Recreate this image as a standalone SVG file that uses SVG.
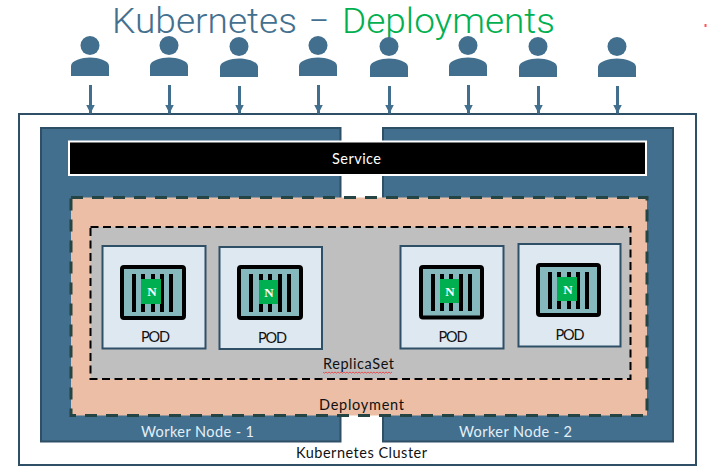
<svg xmlns="http://www.w3.org/2000/svg" width="707" height="471" viewBox="0 0 707 471">
<style>
text{font-family:"Lato","Liberation Sans",sans-serif;font-size:14.5px;fill:#111;text-anchor:middle}
.title{font-family:"Roboto","Open Sans",sans-serif;font-weight:300;font-size:35px;text-anchor:start}
.worker{fill:#426f8e;stroke:#2f4f66;stroke-width:2}
.pod{fill:#dee8f0;stroke:#2f4f66;stroke-width:2}
.box{fill:#85b9bd;stroke:#000;stroke-width:4}
.bar{fill:#000}
.badge{fill:#00b050}
.n{font-family:"Liberation Serif",serif;font-weight:bold;font-size:13px;fill:#fff}
.lt{fill:#e4eff8}
.user{fill:#426f8e}
.conn{stroke:#426f8e;stroke-width:3;fill:none}
</style>
<defs>
<marker id="arrow" markerUnits="userSpaceOnUse" markerWidth="10" markerHeight="10" refX="9" refY="5" orient="auto"><path d="M0,0.500L9,5L0,9.500L1,5Z" fill="#426f8e"/></marker>
<path id="person" d="M-19,76V66C-19,60.500-8,57.500 0,57.500C8,57.500 19,60.500 19,66V76Z"/>
</defs>
<rect width="707" height="471" fill="#fff"/>
<text class="title" y="33"><tspan x="112" fill="#44708f" textLength="185" lengthAdjust="spacingAndGlyphs">Kubernetes</tspan><tspan x="309" fill="#44708f" textLength="20" lengthAdjust="spacingAndGlyphs">–</tspan><tspan x="342" fill="#00b050" textLength="213" lengthAdjust="spacingAndGlyphs">Deployments</tspan></text>
<rect x="704.500" y="24" width="2" height="3" fill="#f55"/>
<g id="cluster"><rect x="19" y="114" width="677" height="351" fill="#fff" stroke="#2f4f66" stroke-width="2"/><text x="361.500" y="457.500" textLength="131">Kubernetes Cluster</text></g>
<g id="worker-1"><rect class="worker" x="41" y="128" width="299.500" height="313.500"/><text class="lt" x="197.500" y="437" textLength="113">Worker Node - 1</text></g>
<g id="worker-2"><rect class="worker" x="383" y="128" width="290" height="313.500"/><text class="lt" x="515.500" y="437" textLength="113">Worker Node - 2</text></g>
<g id="service"><rect x="69" y="141.500" width="577" height="33.500" fill="#000" stroke="#fff" stroke-width="2"/><text x="356.500" y="164" style="fill:#fff" textLength="49">Service</text></g>
<g id="deployment"><rect x="71" y="197.500" width="576" height="218" fill="#ebbea5" stroke="#254545" stroke-width="3" stroke-dasharray="12 9"/><text x="361.500" y="410" textLength="85">Deployment</text></g>
<g id="replicaset"><rect x="90.500" y="227" width="540" height="152" fill="#bfbfbf" stroke="#000" stroke-width="2" stroke-dasharray="8 4.500"/><text x="358.500" y="369" textLength="71">ReplicaSet</text><path d="M323,372l1.500,1.200 1.500,-1.200 1.500,1.200 1.500,-1.200 1.500,1.200 1.500,-1.200 1.500,1.200 1.500,-1.200 1.500,1.200 1.500,-1.200 1.500,1.200 1.500,-1.200 1.500,1.200 1.500,-1.200 1.500,1.200 1.500,-1.200 1.500,1.200 1.500,-1.200 1.500,1.200 1.500,-1.200 1.500,1.200 1.500,-1.200 1.500,1.200 1.500,-1.200 1.500,1.200 1.500,-1.200 1.500,1.200 1.500,-1.200 1.500,1.200 1.500,-1.200 1.500,1.200 1.500,-1.200 1.500,1.200 1.500,-1.200 1.500,1.200 1.500,-1.200 1.500,1.200 1.500,-1.200 1.500,1.200 1.500,-1.200 1.500,1.200 1.500,-1.200 1.500,1.200 1.500,-1.200 1.500,1.200 1.500,-1.200" fill="none" stroke="#e33" stroke-width="0.800"/></g>
<g id="pod-1"><rect class="pod" x="102.500" y="246" width="103" height="102.500"/><rect class="box" x="122" y="267" width="62" height="51" rx="2"/><rect class="bar" x="132" y="274" width="4" height="38"/><rect class="bar" x="141" y="274" width="4" height="38"/><rect class="bar" x="151" y="274" width="4" height="38"/><rect class="bar" x="160" y="274" width="4" height="38"/><rect class="bar" x="169" y="274" width="4" height="38"/><rect class="badge" x="141" y="279" width="20" height="25"/><text class="n" x="152" y="296">N</text><text x="155.500" y="341.500" textLength="29">POD</text></g>
<g id="pod-2"><rect class="pod" x="219.500" y="247" width="102.500" height="102"/><rect class="box" x="239" y="267" width="62" height="51" rx="2"/><rect class="bar" x="249" y="274" width="4" height="38"/><rect class="bar" x="259" y="274" width="4" height="38"/><rect class="bar" x="268" y="274" width="4" height="38"/><rect class="bar" x="278" y="274" width="4" height="38"/><rect class="bar" x="287" y="274" width="4" height="38"/><rect class="badge" x="259" y="280" width="19" height="24"/><text class="n" x="269" y="297">N</text><text x="272.500" y="343" textLength="29">POD</text></g>
<g id="pod-3"><rect class="pod" x="400.500" y="246" width="103" height="102.500"/><rect class="box" x="421" y="267" width="61" height="50.500" rx="2"/><rect class="bar" x="431" y="274" width="4" height="37"/><rect class="bar" x="440" y="274" width="4" height="37"/><rect class="bar" x="449" y="274" width="4" height="37"/><rect class="bar" x="459" y="274" width="4" height="37"/><rect class="bar" x="468" y="274" width="4" height="37"/><rect class="badge" x="440" y="279" width="19" height="24"/><text class="n" x="450" y="296">N</text><text x="453" y="342" textLength="29">POD</text></g>
<g id="pod-4"><rect class="pod" x="518.500" y="244" width="102" height="102.500"/><rect class="box" x="538" y="265" width="61" height="50" rx="2"/><rect class="bar" x="548" y="272" width="4" height="37"/><rect class="bar" x="557" y="272" width="4" height="37"/><rect class="bar" x="567" y="272" width="4" height="37"/><rect class="bar" x="576" y="272" width="4" height="37"/><rect class="bar" x="585" y="272" width="4" height="37"/><rect class="badge" x="557" y="277" width="20" height="24"/><text class="n" x="568" y="294">N</text><text x="570" y="340" textLength="29">POD</text></g>
<g id="user-1" class="user" transform="translate(90 0)"><circle cy="45.500" r="9.500"/><use href="#person"/></g>
<g id="user-2" class="user" transform="translate(169 0)"><circle cy="45.500" r="9.500"/><use href="#person"/></g>
<g id="user-3" class="user" transform="translate(239 1)"><circle cy="45.500" r="9.500"/><use href="#person"/></g>
<g id="user-4" class="user" transform="translate(318 0)"><circle cy="45.500" r="9.500"/><use href="#person"/></g>
<g id="user-5" class="user" transform="translate(389 1)"><circle cy="45.500" r="9.500"/><use href="#person"/></g>
<g id="user-6" class="user" transform="translate(468 0)"><circle cy="45.500" r="9.500"/><use href="#person"/></g>
<g id="user-7" class="user" transform="translate(538 1)"><circle cy="45.500" r="9.500"/><use href="#person"/></g>
<g id="user-8" class="user" transform="translate(617 1)"><circle cy="45.500" r="9.500"/><use href="#person"/></g>
<g id="connectors">
<line class="conn" x1="90.500" y1="85" x2="90.500" y2="113.500" marker-end="url(#arrow)"/>
<line class="conn" x1="169.500" y1="85" x2="169.500" y2="113.500" marker-end="url(#arrow)"/>
<line class="conn" x1="239.500" y1="86" x2="239.500" y2="113.500" marker-end="url(#arrow)"/>
<line class="conn" x1="318.500" y1="85" x2="318.500" y2="113.500" marker-end="url(#arrow)"/>
<line class="conn" x1="389.500" y1="86" x2="389.500" y2="113.500" marker-end="url(#arrow)"/>
<line class="conn" x1="468.500" y1="85" x2="468.500" y2="113.500" marker-end="url(#arrow)"/>
<line class="conn" x1="538.500" y1="86" x2="538.500" y2="113.500" marker-end="url(#arrow)"/>
<line class="conn" x1="617.500" y1="86" x2="617.500" y2="113.500" marker-end="url(#arrow)"/>
</g>
</svg>
